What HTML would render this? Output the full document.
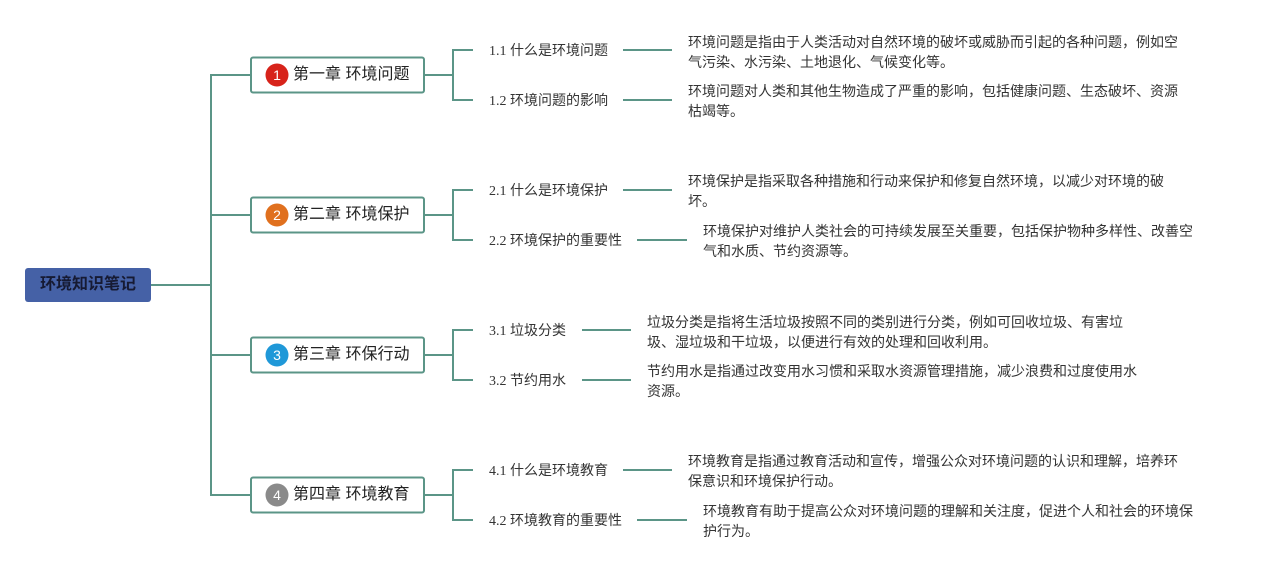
<!DOCTYPE html>
<html>
<head>
<meta charset="utf-8">
<style>
html,body{margin:0;padding:0;background:#fff;}
body{width:1262px;height:570px;position:relative;overflow:hidden;font-family:"Liberation Sans","Noto Sans CJK SC",sans-serif;}
svg{position:absolute;left:0;top:0;}
.t{position:absolute;white-space:nowrap;}
.root{left:25px;top:268px;width:126px;height:34px;line-height:34px;text-align:center;font-size:16px;font-weight:bold;color:#161a33;}
.ch{left:293px;height:24px;line-height:24px;font-size:16px;color:#222;}
.num{width:22px;height:22px;line-height:22px;text-align:center;font-size:14px;color:#fff;}
.lab{left:489px;height:20px;line-height:20px;font-size:14px;color:#333;font-family:"Liberation Serif","Noto Sans CJK SC",serif;}
.lab span{font-family:"Liberation Sans","Noto Sans CJK SC",sans-serif;}
.d{font-size:14px;line-height:20px;color:#333;}
</style>
</head>
<body>
<svg width="1262" height="570" viewBox="0 0 1262 570">
  <g stroke="#5b9587" stroke-width="2" fill="none">
    <!-- root to trunk -->
    <line x1="151" y1="285" x2="211" y2="285"/>
    <line x1="211" y1="74" x2="211" y2="496"/>
    <line x1="211" y1="75" x2="250" y2="75"/>
    <line x1="211" y1="215" x2="250" y2="215"/>
    <line x1="211" y1="355" x2="250" y2="355"/>
    <line x1="211" y1="495" x2="250" y2="495"/>
    <!-- chapter brackets -->
    <g>
      <line x1="425" y1="75" x2="453" y2="75"/>
      <polyline points="473,50 453,50 453,100 473,100"/>
      <line x1="425" y1="215" x2="453" y2="215"/>
      <polyline points="473,190 453,190 453,240 473,240"/>
      <line x1="425" y1="355" x2="453" y2="355"/>
      <polyline points="473,330 453,330 453,380 473,380"/>
      <line x1="425" y1="495" x2="453" y2="495"/>
      <polyline points="473,470 453,470 453,520 473,520"/>
    </g>
    <!-- label to desc lines -->
    <line x1="623" y1="50" x2="672" y2="50"/>
    <line x1="623" y1="100" x2="672" y2="100"/>
    <line x1="623" y1="190" x2="672" y2="190"/>
    <line x1="637" y1="240" x2="687" y2="240"/>
    <line x1="582" y1="330" x2="631" y2="330"/>
    <line x1="582" y1="380" x2="631" y2="380"/>
    <line x1="623" y1="470" x2="672" y2="470"/>
    <line x1="637" y1="520" x2="687" y2="520"/>
  </g>
  <!-- root box -->
  <rect x="25" y="268" width="126" height="34" rx="3" fill="#4561a6"/>
  <!-- chapter boxes -->
  <g fill="#fff" stroke="#5b9587" stroke-width="2">
    <rect x="251" y="57.5" width="173" height="35" rx="2"/>
    <rect x="251" y="197.5" width="173" height="35" rx="2"/>
    <rect x="251" y="337.5" width="173" height="35" rx="2"/>
    <rect x="251" y="477.5" width="173" height="35" rx="2"/>
  </g>
  <circle cx="277" cy="75" r="11.5" fill="#d7231a"/>
  <circle cx="277" cy="215" r="11.5" fill="#e0701e"/>
  <circle cx="277" cy="355" r="11.5" fill="#1f98d8"/>
  <circle cx="277" cy="495" r="11.5" fill="#8a8a8a"/>
</svg>

<div class="t root">环境知识笔记</div>

<div class="t num" style="left:266px;top:64px;">1</div>
<div class="t num" style="left:266px;top:204px;">2</div>
<div class="t num" style="left:266px;top:344px;">3</div>
<div class="t num" style="left:266px;top:484px;">4</div>

<div class="t ch" style="top:63px;">第一章 环境问题</div>
<div class="t ch" style="top:203px;">第二章 环境保护</div>
<div class="t ch" style="top:343px;">第三章 环保行动</div>
<div class="t ch" style="top:483px;">第四章 环境教育</div>

<div class="t lab" style="top:40px;">1.1 <span>什么是环境问题</span></div>
<div class="t lab" style="top:90px;">1.2 <span>环境问题的影响</span></div>
<div class="t lab" style="top:180px;">2.1 <span>什么是环境保护</span></div>
<div class="t lab" style="top:230px;">2.2 <span>环境保护的重要性</span></div>
<div class="t lab" style="top:320px;">3.1 <span>垃圾分类</span></div>
<div class="t lab" style="top:370px;">3.2 <span>节约用水</span></div>
<div class="t lab" style="top:460px;">4.1 <span>什么是环境教育</span></div>
<div class="t lab" style="top:510px;">4.2 <span>环境教育的重要性</span></div>

<div class="t d" style="left:688px;top:32px;">环境问题是指由于人类活动对自然环境的破坏或威胁而引起的各种问题，例如空<br>气污染、水污染、土地退化、气候变化等。</div>
<div class="t d" style="left:688px;top:81px;">环境问题对人类和其他生物造成了严重的影响，包括健康问题、生态破坏、资源<br>枯竭等。</div>
<div class="t d" style="left:688px;top:171px;">环境保护是指采取各种措施和行动来保护和修复自然环境，以减少对环境的破<br>坏。</div>
<div class="t d" style="left:703px;top:221px;">环境保护对维护人类社会的可持续发展至关重要，包括保护物种多样性、改善空<br>气和水质、节约资源等。</div>
<div class="t d" style="left:647px;top:312px;">垃圾分类是指将生活垃圾按照不同的类别进行分类，例如可回收垃圾、有害垃<br>圾、湿垃圾和干垃圾，以便进行有效的处理和回收利用。</div>
<div class="t d" style="left:647px;top:361px;">节约用水是指通过改变用水习惯和采取水资源管理措施，减少浪费和过度使用水<br>资源。</div>
<div class="t d" style="left:688px;top:451px;">环境教育是指通过教育活动和宣传，增强公众对环境问题的认识和理解，培养环<br>保意识和环境保护行动。</div>
<div class="t d" style="left:703px;top:501px;">环境教育有助于提高公众对环境问题的理解和关注度，促进个人和社会的环境保<br>护行为。</div>
</body>
</html>
